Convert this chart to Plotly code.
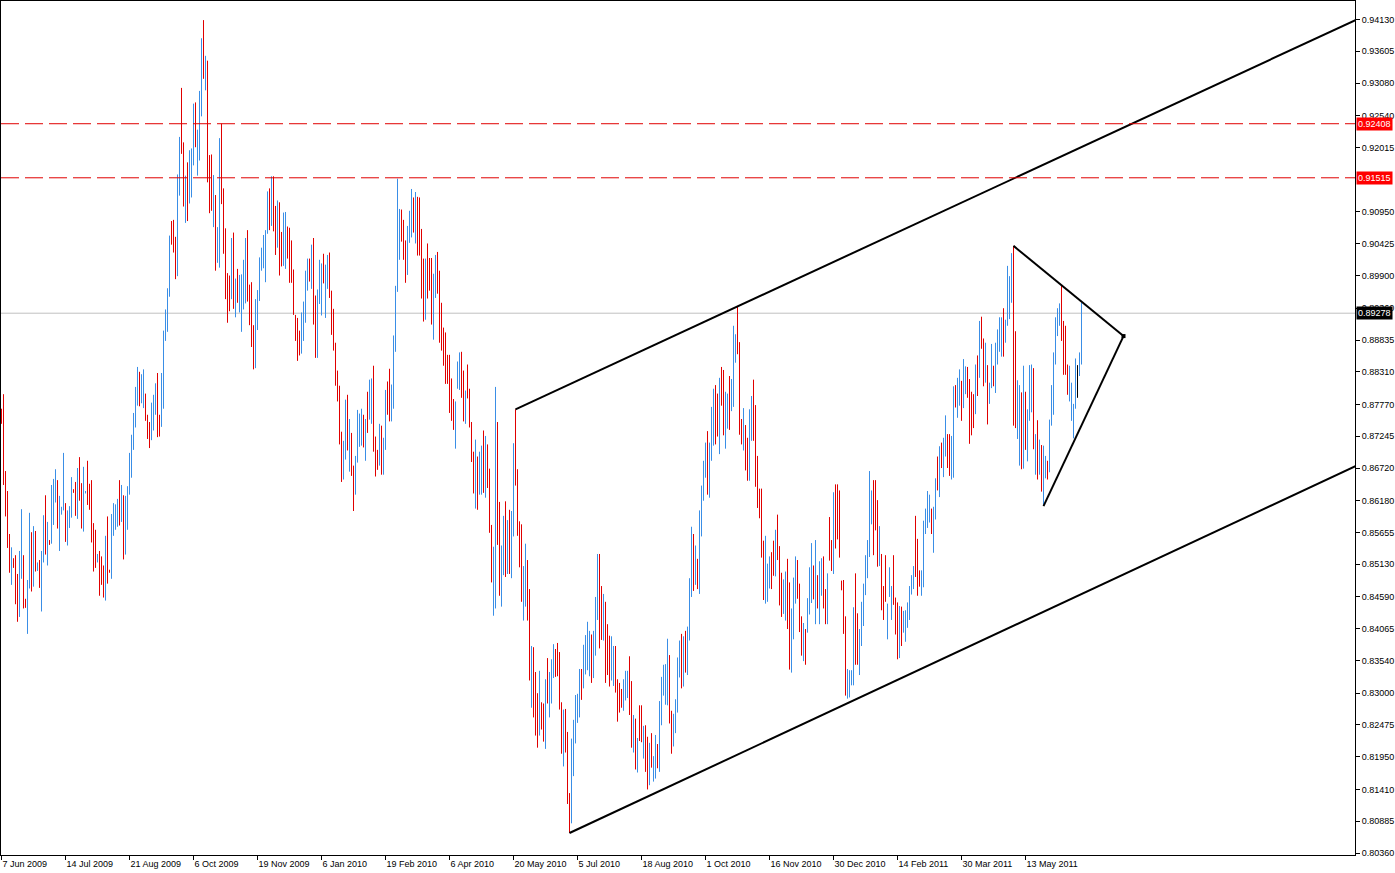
import plotly.graph_objects as go

# ---------------- data (prices in pips, 1 pip = 0.0001) ----------------
tick_labels = ["7 Jun 2009", "14 Jul 2009", "21 Aug 2009", "6 Oct 2009", "19 Nov 2009",
               "6 Jan 2010", "19 Feb 2010", "6 Apr 2010", "20 May 2010", "5 Jul 2010",
               "18 Aug 2010", "1 Oct 2010", "16 Nov 2010", "30 Dec 2010", "14 Feb 2011",
               "30 Mar 2011", "13 May 2011"]
tick_bar_index = [0, 32, 64, 96, 128, 160, 192, 224, 256, 288, 320, 352, 384, 416, 448, 480, 512]

price_ticks = [0.94130, 0.93605, 0.93080, 0.92540, 0.92015, 0.90950, 0.90425, 0.89900,
               0.89360, 0.88835, 0.88310, 0.87770, 0.87245, 0.86720, 0.86180, 0.85655,
               0.85130, 0.84590, 0.84065, 0.83540, 0.83000, 0.82475, 0.81950, 0.81410,
               0.80885, 0.80360]

highs_pips = [
    8770, 8794, 8667, 8634, 8563, 8541, 8523, 8528, 8497, 8535,
    8604, 8528, 8456, 8487, 8598, 8566, 8576, 8568, 8516, 8520,
    8535, 8594, 8627, 8583, 8553, 8644, 8654, 8670, 8652, 8626,
    8608, 8697, 8614, 8602, 8609, 8657, 8637, 8649, 8672, 8690,
    8647, 8674, 8634, 8684, 8646, 8652, 8581, 8570, 8530, 8535,
    8526, 8511, 8560, 8592, 8504, 8596, 8614, 8612, 8621, 8652,
    8644, 8627, 8626, 8642, 8697, 8727, 8763, 8806, 8839, 8831,
    8827, 8835, 8795, 8760, 8748, 8780, 8793, 8812, 8829, 8760,
    8829, 8899, 8934, 8969, 9056, 9080, 9082, 9054, 9157, 9219,
    9300, 9210, 9155, 9177, 9197, 9200, 9274, 9276, 9231, 9295,
    9382, 9412, 9353, 9345, 9189, 9190, 9156, 9123, 9070, 9217,
    9241, 9134, 9068, 8994, 8990, 9052, 9061, 8985, 9001, 8991,
    8992, 9016, 9052, 9065, 8975, 8979, 8908, 8951, 8966, 9020,
    9036, 9057, 9065, 9129, 9134, 9154, 9154, 9105, 9114, 9111,
    9062, 9094, 9095, 9071, 9069, 9048, 9000, 8925, 8920, 8899,
    8929, 8947, 8998, 9018, 9018, 9041, 9052, 8957, 8967, 9016,
    9010, 9026, 9008, 9024, 9028, 8965, 8935, 8879, 8833, 8808,
    8732, 8717, 8785, 8793, 8753, 8730, 8676, 8692, 8768, 8762,
    8770, 8760, 8753, 8798, 8818, 8820, 8841, 8724, 8702, 8745,
    8742, 8722, 8801, 8815, 8836, 8810, 8891, 8973, 9150, 9100,
    9099, 9082, 9048, 9072, 9097, 9133, 9119, 9128, 9120, 9119,
    9067, 9018, 9018, 9043, 9019, 9019, 8993, 9024, 9029, 8998,
    8945, 8904, 8896, 8859, 8859, 8820, 8786, 8782, 8848, 8863,
    8864, 8833, 8800, 8843, 8803, 8748, 8699, 8719, 8691, 8699,
    8709, 8734, 8725, 8711, 8671, 8578, 8542, 8806, 8748, 8616,
    8544, 8593, 8617, 8586, 8603, 8601, 8713, 8769, 8670, 8584,
    8579, 8510, 8547, 8520, 8472, 8378, 8376, 8335, 8300, 8337,
    8285, 8283, 8323, 8358, 8335, 8356, 8381, 8373, 8383, 8368,
    8285, 8273, 8274, 8236, 8135, 8225, 8256, 8297, 8299, 8340,
    8340, 8380, 8396, 8418, 8403, 8397, 8403, 8459, 8530, 8530,
    8477, 8464, 8451, 8414, 8395, 8394, 8378, 8378, 8323, 8317,
    8307, 8323, 8337, 8337, 8361, 8320, 8264, 8258, 8226, 8280,
    8280, 8246, 8247, 8228, 8218, 8234, 8196, 8231, 8216, 8287,
    8327, 8347, 8348, 8390, 8363, 8271, 8266, 8290, 8359, 8387,
    8398, 8394, 8403, 8410, 8490, 8575, 8563, 8544, 8522, 8602,
    8643, 8684, 8714, 8733, 8714, 8773, 8803, 8809, 8795, 8821,
    8839, 8834, 8798, 8795, 8824, 8819, 8907, 8893, 8939, 8880,
    8753, 8771, 8743, 8722, 8769, 8791, 8818, 8776, 8692, 8638,
    8638, 8552, 8560, 8514, 8526, 8533, 8552, 8570, 8595, 8543,
    8499, 8488, 8501, 8522, 8483, 8440, 8491, 8526, 8520, 8481,
    8427, 8416, 8406, 8457, 8508, 8548, 8511, 8553, 8495, 8518,
    8523, 8526, 8472, 8498, 8591, 8553, 8632, 8645, 8645, 8635,
    8486, 8487, 8427, 8340, 8338, 8338, 8442, 8498, 8432, 8406,
    8451, 8481, 8528, 8553, 8667, 8635, 8652, 8652, 8619, 8576,
    8530, 8477, 8528, 8448, 8508, 8477, 8528, 8458, 8450, 8444,
    8443, 8436, 8437, 8450, 8477, 8495, 8510, 8593, 8555, 8503,
    8503, 8585, 8605, 8634, 8628, 8605, 8608, 8655, 8691, 8708,
    8714, 8722, 8759, 8728, 8728, 8725, 8807, 8809, 8821, 8835,
    8816, 8852, 8840, 8839, 8819, 8798, 8794, 8843, 8858, 8915,
    8922, 8886, 8879, 8842, 8813, 8877, 8841, 8879, 8901, 8921,
    8921, 8936, 8917, 9006, 8989, 9027, 9039, 8898, 8817, 8809,
    8797, 8841, 8798, 8769, 8842, 8843, 8837, 8728, 8751, 8719,
    8710, 8709, 8692, 8684, 8752, 8809, 8863, 8921, 8936, 8944,
    8973, 8915, 8907, 8843, 8841, 8813, 8778, 8853, 8842, 8863,
    8945]

lows_pips = [
    8745, 8644, 8592, 8540, 8499, 8479, 8507, 8447, 8418, 8426,
    8489, 8440, 8441, 8398, 8473, 8468, 8476, 8501, 8502, 8474,
    8435, 8516, 8529, 8511, 8545, 8547, 8578, 8615, 8572, 8535,
    8595, 8602, 8550, 8544, 8573, 8590, 8631, 8593, 8588, 8618,
    8572, 8567, 8630, 8611, 8603, 8549, 8501, 8507, 8516, 8461,
    8479, 8458, 8453, 8481, 8499, 8489, 8560, 8570, 8575, 8577,
    8583, 8521, 8529, 8570, 8628, 8656, 8702, 8739, 8775, 8774,
    8779, 8771, 8750, 8720, 8705, 8718, 8734, 8760, 8723, 8724,
    8740, 8770, 8882, 8897, 8955, 9041, 9028, 8984, 8989, 9122,
    9191, 9104, 9077, 9080, 9109, 9119, 9172, 9202, 9155, 9180,
    9253, 9315, 9296, 9144, 9093, 9097, 9070, 8998, 9011, 9003,
    9108, 9026, 8951, 8912, 8931, 8951, 8935, 8921, 8945, 8929,
    8897, 8934, 8944, 8947, 8908, 8872, 8835, 8837, 8900, 8948,
    8998, 9002, 8979, 9059, 9065, 9072, 9063, 9024, 9036, 8990,
    9005, 9006, 9001, 9018, 8978, 8978, 8925, 8882, 8849, 8858,
    8861, 8882, 8912, 8965, 8980, 8968, 8909, 8854, 8854, 8943,
    8924, 8977, 8920, 8968, 8953, 8892, 8866, 8808, 8782, 8711,
    8649, 8653, 8686, 8701, 8666, 8659, 8601, 8628, 8681, 8707,
    8709, 8706, 8684, 8730, 8752, 8745, 8699, 8658, 8669, 8676,
    8661, 8661, 8702, 8760, 8749, 8749, 8770, 8864, 8963, 9016,
    9046, 9016, 8978, 8991, 9044, 9053, 9061, 9043, 9023, 9023,
    8952, 8914, 8917, 8952, 8965, 8909, 8884, 8953, 8960, 8879,
    8866, 8841, 8811, 8811, 8763, 8750, 8735, 8704, 8803, 8801,
    8788, 8749, 8745, 8787, 8739, 8682, 8630, 8605, 8603, 8628,
    8628, 8631, 8623, 8639, 8565, 8483, 8428, 8440, 8545, 8461,
    8443, 8495, 8492, 8497, 8497, 8490, 8559, 8643, 8560, 8508,
    8451, 8420, 8443, 8420, 8321, 8276, 8260, 8230, 8210, 8230,
    8240, 8220, 8208, 8283, 8260, 8283, 8325, 8327, 8328, 8273,
    8200, 8179, 8202, 8117, 8069, 8085, 8163, 8217, 8251, 8260,
    8289, 8308, 8331, 8338, 8328, 8317, 8325, 8362, 8421, 8374,
    8388, 8387, 8317, 8330, 8311, 8321, 8312, 8301, 8253, 8268,
    8276, 8271, 8288, 8292, 8264, 8210, 8202, 8174, 8169, 8221,
    8219, 8192, 8170, 8141, 8148, 8177, 8154, 8159, 8176, 8170,
    8247, 8296, 8281, 8280, 8250, 8200, 8212, 8234, 8268, 8326,
    8308, 8311, 8334, 8330, 8387, 8459, 8469, 8479, 8472, 8464,
    8559, 8618, 8656, 8628, 8623, 8684, 8709, 8711, 8724, 8695,
    8775, 8726, 8704, 8737, 8735, 8766, 8773, 8846, 8860, 8727,
    8711, 8701, 8668, 8651, 8651, 8717, 8717, 8641, 8606, 8589,
    8524, 8454, 8448, 8451, 8473, 8472, 8494, 8493, 8520, 8445,
    8426, 8431, 8420, 8406, 8339, 8334, 8389, 8448, 8456, 8401,
    8362, 8353, 8347, 8400, 8430, 8449, 8455, 8414, 8440, 8414,
    8461, 8440, 8414, 8414, 8519, 8502, 8497, 8539, 8554, 8524,
    8470, 8398, 8296, 8291, 8293, 8313, 8313, 8347, 8347, 8330,
    8378, 8411, 8462, 8490, 8525, 8579, 8528, 8569, 8509, 8510,
    8437, 8421, 8451, 8389, 8459, 8421, 8446, 8397, 8356, 8358,
    8378, 8400, 8385, 8408, 8421, 8463, 8472, 8492, 8461, 8476,
    8461, 8475, 8563, 8573, 8582, 8563, 8532, 8587, 8635, 8624,
    8672, 8657, 8691, 8672, 8659, 8653, 8656, 8772, 8755, 8775,
    8750, 8771, 8794, 8788, 8712, 8726, 8738, 8761, 8791, 8821,
    8869, 8807, 8813, 8744, 8778, 8804, 8807, 8796, 8843, 8864,
    8856, 8856, 8879, 8907, 8918, 8945, 8742, 8738, 8720, 8676,
    8670, 8671, 8702, 8683, 8750, 8764, 8703, 8661, 8653, 8661,
    8633, 8611, 8655, 8653, 8665, 8742, 8760, 8843, 8890, 8907,
    8882, 8826, 8826, 8793, 8782, 8750, 8721, 8770, 8788, 8824,
    8843]

# bar direction: u = up (blue), d = down (red), n = unchanged (black)
bar_dir = ("dddddudddu" "udduududud" "uududuuudu" "uuduuuddud" "duudddddud"
           "ddudduuuud" "uduuuuuuud" "uuddduuudd" "uuuuuddduu" "dduduuuduu"
           "ududdduduu" "dddddududu" "uuudddduuu" "uuuududdud" "duuddddddd"
           "uuuududduu" "uduudddddd" "duududduuu" "ududuudddu" "duudduuuuu"
           "ddduuududd" "dduddduudd" "ddddddduuu" "dduddddudu" "ududdduudd"
           "uududuuddd" "duuddudddu" "dduduuuddd" "duddduuuuu" "duuuuduuud"
           "duddduuddd" "duuuddudud" "dudduduudu" "uuuudduuuu" "duduuududu"
           "uuuduuuddu" "dduuduuudd" "dudduudddd" "dduuuddudd" "duudduuudd"
           "duduuududu" "uddudduddd" "ddduuuuddu" "uuuuuudddu" "ddduuudddu"
           "duuuuuuddd" "uuuuuduudu" "duudduuduu" "duuddddudu" "dduduuduuu"
           "uduuuudduu" "duduuududu" "duuduuuuuu" "dddduuuunu" "u")

# horizontal levels
resistance_levels = [0.92408, 0.91515]
bid_price = 0.89278

# drawn trend lines (bar index, price)
channel_upper_idx = [257, 677]
channel_upper_price = [0.8769, 0.9412]
channel_lower_idx = [284, 677]
channel_lower_price = [0.8069, 0.8675]
triangle_upper_idx = [506, 561]
triangle_upper_price = [0.9039, 0.8890]
triangle_lower_idx = [521, 561]
triangle_lower_price = [0.8609, 0.8890]

# ---------------- figure ----------------
PIP = 10000.0
n = min(len(highs_pips), len(lows_pips), len(bar_dir))
highs = [h / PIP for h in highs_pips[:n]]
lows = [v / PIP for v in lows_pips[:n]]

FONT = "Liberation Sans"
colors = {"u": "#3a8ee6", "d": "#e00000", "n": "#000000"}
segments = {k: ([], []) for k in colors}
for i in range(n):
    xs, ys = segments[bar_dir[i]]
    xs.extend([i, i, None])
    ys.extend([lows[i], highs[i], None])

fig = go.Figure()
for k, (xs, ys) in segments.items():
    if xs:
        fig.add_trace(go.Scatter(x=xs, y=ys, mode="lines",
                                 line=dict(color=colors[k], width=1),
                                 hoverinfo="skip", showlegend=False))

for lvl in resistance_levels:
    fig.add_hline(y=lvl, line=dict(color="#e00000", width=1, dash="18px,6px"), layer="above")
fig.add_hline(y=bid_price, line=dict(color="#c0c0c0", width=1), layer="below")

for xs, ys in [(channel_upper_idx, channel_upper_price),
               (channel_lower_idx, channel_lower_price),
               (triangle_upper_idx, triangle_upper_price),
               (triangle_lower_idx, triangle_lower_price)]:
    fig.add_trace(go.Scatter(x=xs, y=ys, mode="lines", line=dict(color="black", width=2),
                             hoverinfo="skip", showlegend=False))
fig.add_trace(go.Scatter(x=[triangle_upper_idx[-1]], y=[triangle_upper_price[-1]], mode="markers",
                         marker=dict(symbol="square", size=4, color="black"),
                         hoverinfo="skip", showlegend=False))

annotations = []
for lvl in resistance_levels:
    annotations.append(dict(xref="paper", x=1, xanchor="left", yref="y", y=lvl,
                            text=f"{lvl:.5f}", showarrow=False, bgcolor="#ff0000",
                            font=dict(family=FONT, size=9, color="white"),
                            borderpad=1, xshift=1))
annotations.append(dict(xref="paper", x=1, xanchor="left", yref="y", y=bid_price,
                        text=f"{bid_price:.5f}", showarrow=False, bgcolor="#000000",
                        font=dict(family=FONT, size=9, color="white"),
                        borderpad=1, xshift=1))

fig.update_layout(
    width=1395, height=873,
    margin=dict(l=1, r=40, t=1, b=18, autoexpand=False),
    paper_bgcolor="white", plot_bgcolor="white",
    showlegend=False,
    annotations=annotations,
    xaxis=dict(range=[-0.25, 676.75], showgrid=False, zeroline=False,
               showline=True, linecolor="black", linewidth=1, mirror=True,
               ticks="outside", ticklen=4, tickcolor="black",
               tickvals=tick_bar_index, ticktext=tick_labels,
               ticklabelposition="outside right",
               tickfont=dict(family=FONT, size=9, color="black"), fixedrange=True),
    yaxis=dict(range=[0.80327, 0.944356], side="right", showgrid=False, zeroline=False,
               showline=True, linecolor="black", linewidth=1, mirror=True,
               ticks="outside", ticklen=4, tickcolor="black",
               tickvals=price_ticks, ticktext=[f"{v:.5f}" for v in price_ticks],
               tickfont=dict(family=FONT, size=9, color="black"), fixedrange=True),
)

fig.write_html("out.html",
               config={"displayModeBar": False, "staticPlot": True},
               post_script="document.body.style.margin='0px';document.body.style.padding='0px';"
                           "document.body.style.overflow='hidden';")
